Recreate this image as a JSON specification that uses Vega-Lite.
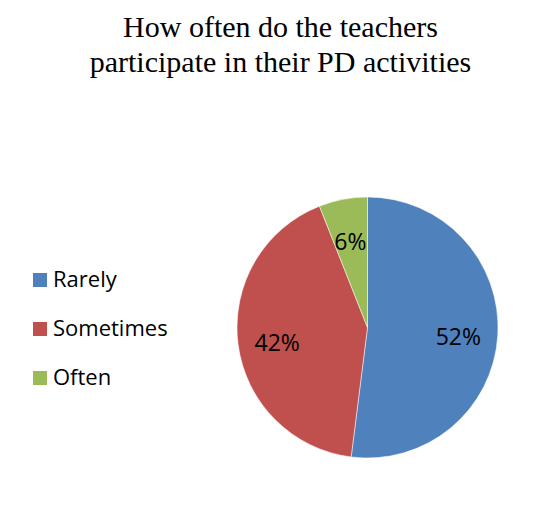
{
  "$schema": "https://vega.github.io/schema/vega-lite/v6.json",
  "autosize": "none",
  "padding": {"left": 237, "top": 197, "right": 52, "bottom": 66},
  "width": 261,
  "height": 261,
  "background": "white",
  "config": {"view": {"stroke": null}},
  "title": {
    "text": ["How often do the teachers", "participate in their PD activities"],
    "font": "Liberation Serif",
    "fontSize": 30,
    "fontWeight": "normal",
    "color": "#000000",
    "lineHeight": 35,
    "anchor": "middle",
    "dx": -87,
    "offset": 118
  },
  "data": {
    "values": [
      {"category": "Rarely", "value": 52, "label": "52%"},
      {"category": "Sometimes", "value": 42, "label": "42%"},
      {"category": "Often", "value": 6, "label": "6%"}
    ]
  },
  "encoding": {
    "theta": {"field": "value", "type": "quantitative", "stack": true},
    "order": {"field": "value", "type": "quantitative", "sort": "descending"},
    "color": {
      "field": "category",
      "type": "nominal",
      "sort": ["Rarely", "Sometimes", "Often"],
      "scale": {"domain": ["Rarely", "Sometimes", "Often"], "range": ["#4F81BD", "#C0504D", "#9BBB59"]},
      "legend": {
        "title": null,
        "orient": "none",
        "legendX": -208,
        "legendY": 72,
        "symbolType": "square",
        "symbolSize": 196,
        "symbolStrokeWidth": 0,
        "labelFont": "Open Sans",
        "labelFontSize": 22,
        "labelColor": "#000000",
        "labelOffset": 2,
        "rowPadding": 27
      }
    }
  },
  "layer": [
    {"mark": {"type": "arc", "stroke": "#ffffff", "strokeWidth": 0.5}},
    {
      "mark": {"type": "text", "radius": 91, "dy": 5, "font": "Open Sans", "fontSize": 23, "color": "#000000", "baseline": "middle"},
      "encoding": {"text": {"field": "label"}, "color": {"value": "#000000"}}
    }
  ]
}
